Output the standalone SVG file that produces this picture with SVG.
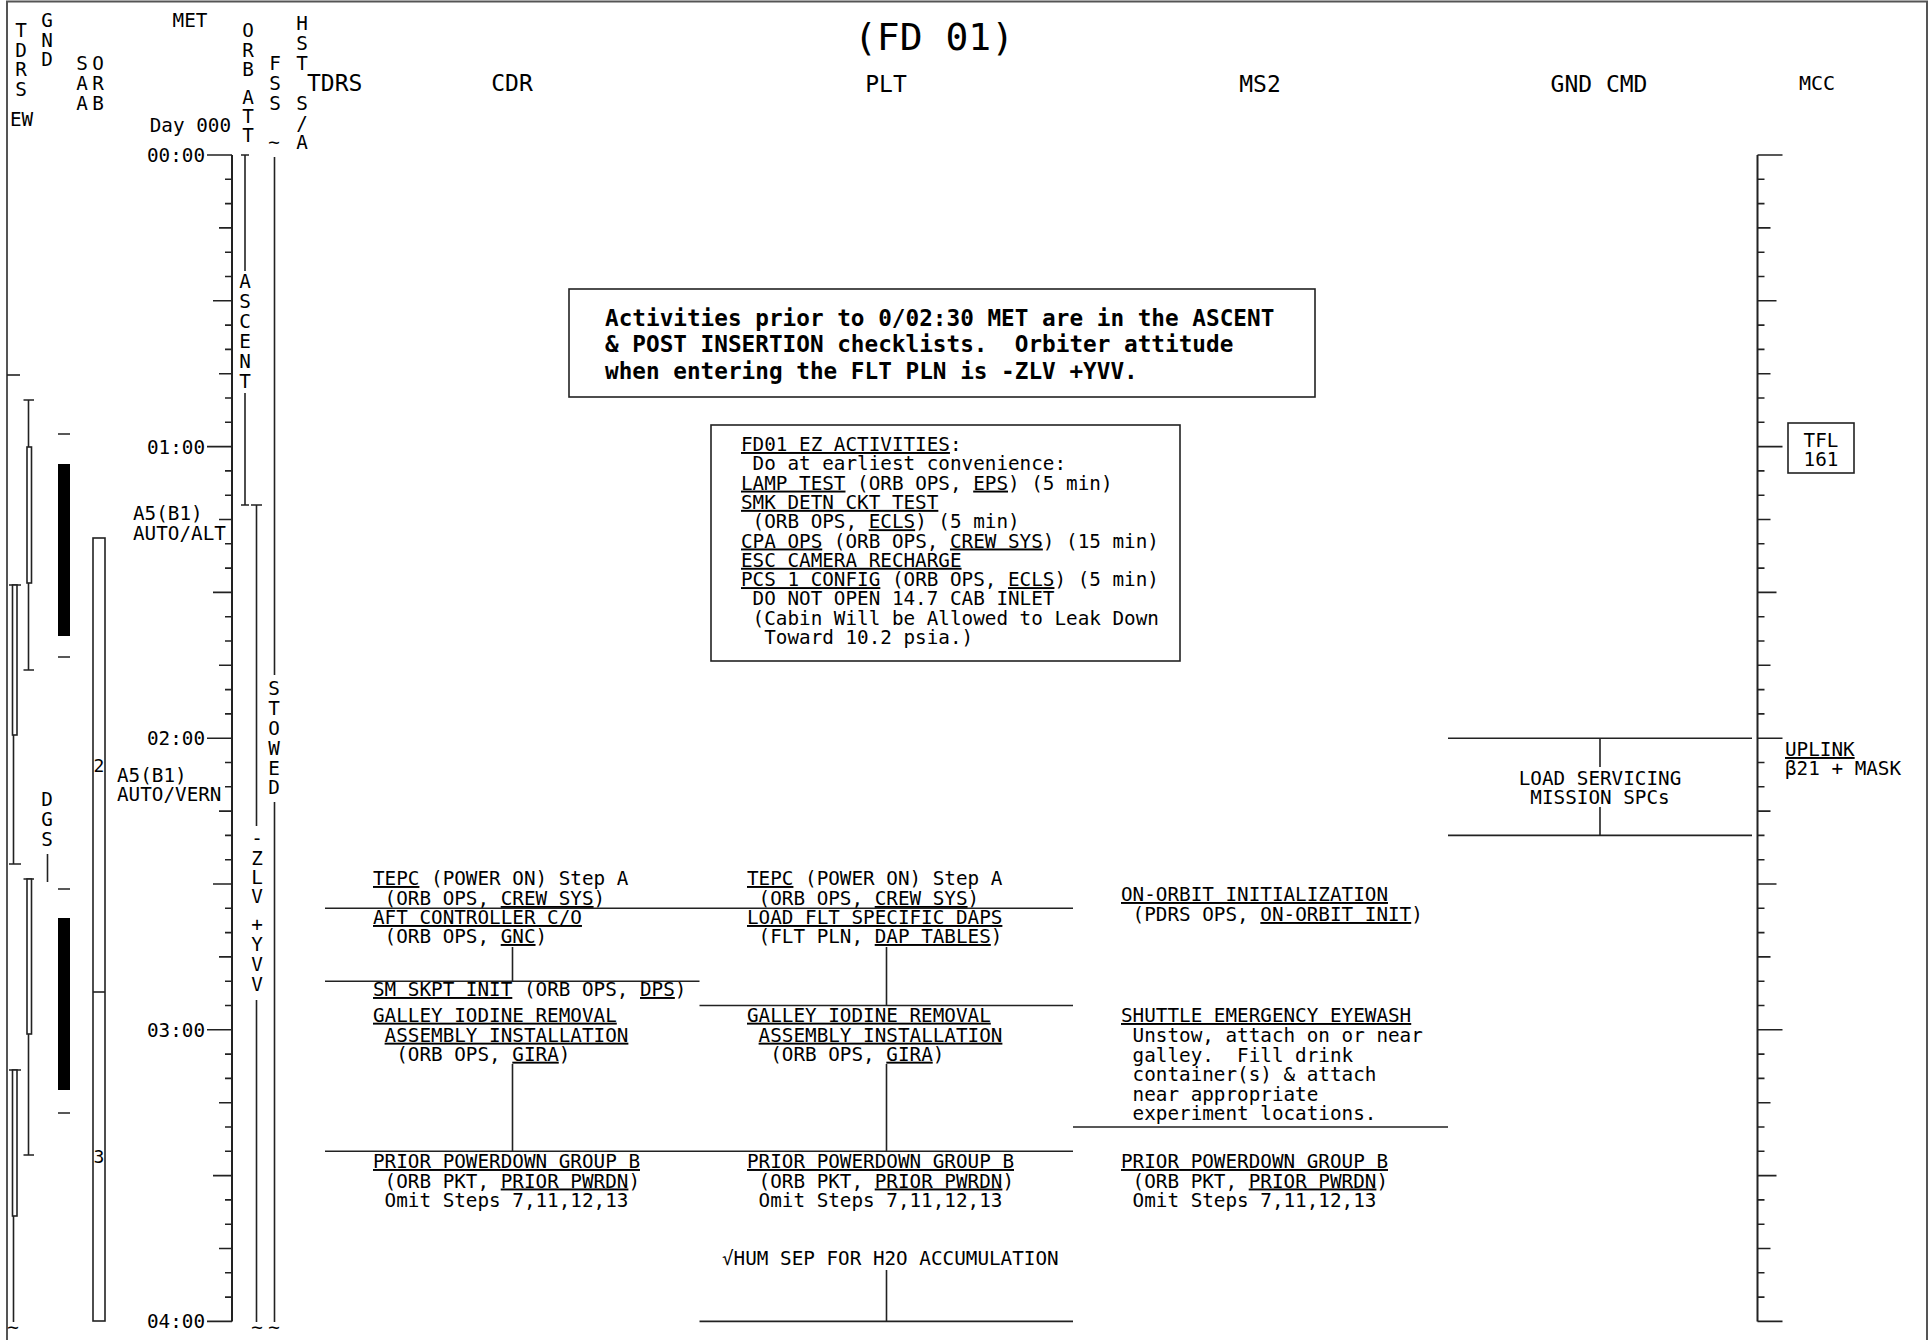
<svg xmlns="http://www.w3.org/2000/svg" width="1929" height="1340" viewBox="0 0 1929 1340">
<style>
text{font-family:"DejaVu Sans Mono","Liberation Mono",monospace;font-size:19.3px;fill:#000}
.u{text-decoration:underline}
.c{text-anchor:middle}
.e{text-anchor:end}
.h{font-size:23px}
.b{font-weight:bold;font-size:22.7px}
.ln{stroke:#222;stroke-width:1.6;fill:none}
.ax{stroke:#222;stroke-width:2;fill:none}
.bx{stroke:#222;stroke-width:1.6;fill:#fff}
</style>
<rect width="1929" height="1340" fill="#fff"/>
<path d="M7 1340 V1.5 H1927 V1340" fill="none" stroke="#555" stroke-width="2"/>

<g id="title"><text class="c" x="934" y="50" style="font-size:38px">(FD 01)</text></g>

<g id="column-headers">
<text x="21" y="37" class="c">T</text><text x="21" y="56.5" class="c">D</text><text x="21" y="76" class="c">R</text><text x="21" y="95.5" class="c">S</text>
<text x="10" y="126">EW</text>
<text x="47" y="27" class="c">G</text><text x="47" y="46.5" class="c">N</text><text x="47" y="66" class="c">D</text>
<text x="82" y="70" class="c">S</text><text x="82" y="90" class="c">A</text><text x="82" y="110" class="c">A</text>
<text x="98" y="70" class="c">O</text><text x="98" y="90" class="c">R</text><text x="98" y="110" class="c">B</text>
<text x="190" y="27" class="c">MET</text>
<text x="231" y="132" class="e">Day 000</text>
<text x="248" y="37" class="c">O</text><text x="248" y="57" class="c">R</text><text x="248" y="76" class="c">B</text>
<text x="248" y="104" class="c">A</text><text x="248" y="123" class="c">T</text><text x="248" y="142" class="c">T</text>
<text x="275" y="70" class="c">F</text><text x="275" y="90" class="c">S</text><text x="275" y="110" class="c">S</text>
<text x="302" y="30" class="c">H</text><text x="302" y="50" class="c">S</text><text x="302" y="70" class="c">T</text>
<text x="302" y="110" class="c">S</text><text x="302" y="130" class="c">/</text><text x="302" y="149" class="c">A</text>
<text x="307" y="91" class="h">TDRS</text>
<text x="512" y="91" class="h c">CDR</text>
<text x="886" y="92" class="h c">PLT</text>
<text x="1260" y="92" class="h c">MS2</text>
<text x="1599" y="92" class="h c">GND CMD</text>
<text x="1817" y="90" class="c" style="font-size:20px">MCC</text>
</g>

<g id="left-tracks">
<path class="ln" d="M7 375 H20"/>
<path class="ln" d="M23.5 400 H34 M28.5 400 V670 M23.5 670 H34"/>
<rect class="bx" x="27" y="447" width="4.5" height="136"/>
<path class="ln" d="M9 585 H21 M13.5 585 V864 M9 864 H21"/>
<rect class="bx" x="12.5" y="585" width="4.5" height="150"/>
<path class="ln" d="M23.5 879 H34 M28.5 879 V1155 M23.5 1155 H34"/>
<rect class="bx" x="27" y="879" width="4.5" height="155"/>
<path class="ln" d="M9 1070 H21 M13.5 1070 V1322"/>
<rect class="bx" x="12.5" y="1070" width="4.5" height="146"/>
<text x="13" y="1334" class="c">~</text>
<text x="47" y="806" class="c">D</text><text x="47" y="826" class="c">G</text><text x="47" y="846" class="c">S</text>
<path class="ln" d="M47.5 854 V882"/>
<path class="ln" d="M58 434 H70 M58 657 H70 M58 889 H70 M58 1113 H70"/>
<rect x="58" y="464" width="12" height="172" fill="#000"/>
<rect x="58" y="918" width="12" height="172" fill="#000"/>
<rect class="bx" x="93" y="538" width="12" height="783"/>
<path class="ln" d="M93 992 H105"/>
<text x="99" y="772" class="c" style="font-size:18px">2</text>
<text x="99" y="1163" class="c" style="font-size:18px">3</text>
</g>

<g id="met-axis">
<path class="ax" d="M232 155 V1321.4"/>
<path class="ln" d="M232 155H207M232 179.3H225M232 203.6H225M232 227.9H219M232 252.2H225M232 276.5H225M232 300.8H213M232 325.1H225M232 349.4H225M232 373.7H219M232 398H225M232 422.3H225M232 446.6H207M232 470.9H225M232 495.2H225M232 519.5H219M232 543.8H225M232 568.1H225M232 592.4H213M232 616.7H225M232 641H225M232 665.3H219M232 689.6H225M232 713.9H225M232 738.2H207M232 762.5H225M232 786.8H225M232 811.1H219M232 835.4H225M232 859.7H225M232 884H213M232 908.3H225M232 932.6H225M232 956.9H219M232 981.2H225M232 1005.5H225M232 1029.8H207M232 1054.1H225M232 1078.4H225M232 1102.7H219M232 1127H225M232 1151.3H225M232 1175.6H213M232 1199.9H225M232 1224.2H225M232 1248.5H219M232 1272.8H225M232 1297.1H225M232 1321.4H207"/>
<text x="205" y="162" class="e">00:00</text>
<text x="205" y="453.6" class="e">01:00</text>
<text x="205" y="745.2" class="e">02:00</text>
<text x="205" y="1036.8" class="e">03:00</text>
<text x="205" y="1328.4" class="e">04:00</text>
<text x="133" y="520">A5(B1)</text>
<text x="133" y="540">AUTO/ALT</text>
<text x="117" y="782">A5(B1)</text>
<text x="117" y="801">AUTO/VERN</text>
</g>

<g id="orb-att">
<path class="ln" d="M241 155 H249 M245 155 V271 M245 393 V505 M241 505 H249"/>
<text x="245" y="288" class="c">A</text><text x="245" y="308" class="c">S</text><text x="245" y="328" class="c">C</text>
<text x="245" y="348" class="c">E</text><text x="245" y="368" class="c">N</text><text x="245" y="388" class="c">T</text>
<path class="ln" d="M251 505 H262 M256.5 505 V826 M256.5 1000 V1322"/>
<text x="257" y="845" class="c">-</text><text x="257" y="865" class="c">Z</text><text x="257" y="884" class="c">L</text><text x="257" y="903" class="c">V</text>
<text x="257" y="931" class="c">+</text><text x="257" y="951" class="c">Y</text><text x="257" y="971" class="c">V</text><text x="257" y="991" class="c">V</text>
<text x="257" y="1334" class="c">~</text>
</g>

<g id="fss">
<text x="274" y="149" class="c">~</text>
<path class="ln" d="M274.5 157 V675 M274.5 802 V1322"/>
<text x="274" y="695" class="c">S</text><text x="274" y="715" class="c">T</text><text x="274" y="735" class="c">O</text>
<text x="274" y="755" class="c">W</text><text x="274" y="775" class="c">E</text><text x="274" y="794" class="c">D</text>
<text x="274" y="1334" class="c">~</text>
</g>

<g id="mcc-axis">
<path class="ax" d="M1757.5 155 V1321.4"/>
<path class="ln" d="M1757.5 155H1782.5M1757.5 179.3H1764.5M1757.5 203.6H1764.5M1757.5 227.9H1770.5M1757.5 252.2H1764.5M1757.5 276.5H1764.5M1757.5 300.8H1776.5M1757.5 325.1H1764.5M1757.5 349.4H1764.5M1757.5 373.7H1770.5M1757.5 398H1764.5M1757.5 422.3H1764.5M1757.5 446.6H1782.5M1757.5 470.9H1764.5M1757.5 495.2H1764.5M1757.5 519.5H1770.5M1757.5 543.8H1764.5M1757.5 568.1H1764.5M1757.5 592.4H1776.5M1757.5 616.7H1764.5M1757.5 641H1764.5M1757.5 665.3H1770.5M1757.5 689.6H1764.5M1757.5 713.9H1764.5M1757.5 738.2H1782.5M1757.5 762.5H1764.5M1757.5 786.8H1764.5M1757.5 811.1H1770.5M1757.5 835.4H1764.5M1757.5 859.7H1764.5M1757.5 884H1776.5M1757.5 908.3H1764.5M1757.5 932.6H1764.5M1757.5 956.9H1770.5M1757.5 981.2H1764.5M1757.5 1005.5H1764.5M1757.5 1029.8H1782.5M1757.5 1054.1H1764.5M1757.5 1078.4H1764.5M1757.5 1102.7H1770.5M1757.5 1127H1764.5M1757.5 1151.3H1764.5M1757.5 1175.6H1776.5M1757.5 1199.9H1764.5M1757.5 1224.2H1764.5M1757.5 1248.5H1770.5M1757.5 1272.8H1764.5M1757.5 1297.1H1764.5M1757.5 1321.4H1782.5"/>
</g>

<g id="tfl-161">
<rect class="bx" x="1788" y="423" width="66" height="50"/>
<text x="1821" y="447" class="c">TFL</text>
<text x="1821" y="466" class="c">161</text>
</g>

<g id="uplink">
<text x="1785" y="756" class="u">UPLINK</text>
<text x="1785" y="775">β21 + MASK</text>
</g>

<g id="ascent-note">
<rect class="bx" x="569" y="289" width="746" height="108"/>
<text x="605" y="325.5" class="b">Activities prior to 0/02:30 MET are in the ASCENT</text>
<text x="605" y="352" class="b" xml:space="preserve">&amp; POST INSERTION checklists.  Orbiter attitude</text>
<text x="605" y="378.5" class="b">when entering the FLT PLN is -ZLV +YVV.</text>
</g>

<g id="ez-activities">
<rect class="bx" x="711" y="425" width="469" height="236"/>
<text x="741" y="451" xml:space="preserve"><tspan class="u">FD01 EZ ACTIVITIES</tspan>:</text>
<text x="741" y="470.3" xml:space="preserve"> Do at earliest convenience:</text>
<text x="741" y="489.6" xml:space="preserve"><tspan class="u">LAMP TEST</tspan> (ORB OPS, <tspan class="u">EPS</tspan>) (5 min)</text>
<text x="741" y="508.9" xml:space="preserve"><tspan class="u">SMK DETN CKT TEST</tspan></text>
<text x="741" y="528.2" xml:space="preserve"> (ORB OPS, <tspan class="u">ECLS</tspan>) (5 min)</text>
<text x="741" y="547.5" xml:space="preserve"><tspan class="u">CPA OPS</tspan> (ORB OPS, <tspan class="u">CREW SYS</tspan>) (15 min)</text>
<text x="741" y="566.8" xml:space="preserve"><tspan class="u">ESC CAMERA RECHARGE</tspan></text>
<text x="741" y="586.1" xml:space="preserve"><tspan class="u">PCS 1 CONFIG</tspan> (ORB OPS, <tspan class="u">ECLS</tspan>) (5 min)</text>
<text x="741" y="605.4" xml:space="preserve"> DO NOT OPEN 14.7 CAB INLET</text>
<text x="741" y="624.7" xml:space="preserve"> (Cabin Will be Allowed to Leak Down</text>
<text x="741" y="644" xml:space="preserve">  Toward 10.2 psia.)</text>
</g>

<g id="gnd-cmd-load-spcs">
<text x="1600" y="785" class="c">LOAD SERVICING</text>
<text x="1600" y="803.5" class="c">MISSION SPCs</text>
</g>

<g id="cdr-tepc">
<text x="373" y="885" xml:space="preserve"><tspan class="u">TEPC</tspan> (POWER ON) Step A</text>
<text x="373" y="905" xml:space="preserve"> (ORB OPS, <tspan class="u">CREW SYS</tspan>)</text>
</g>
<g id="cdr-aft-controller">
<text x="373" y="924" xml:space="preserve"><tspan class="u">AFT CONTROLLER C/O</tspan></text>
<text x="373" y="943" xml:space="preserve"> (ORB OPS, <tspan class="u">GNC</tspan>)</text>
</g>
<g id="cdr-sm-skpt">
<text x="373" y="996" xml:space="preserve"><tspan class="u">SM SKPT INIT</tspan> (ORB OPS, <tspan class="u">DPS</tspan>)</text>
</g>
<g id="cdr-galley">
<text x="373" y="1021.7" xml:space="preserve"><tspan class="u">GALLEY IODINE REMOVAL</tspan></text>
<text x="373" y="1041.7" xml:space="preserve"> <tspan class="u">ASSEMBLY INSTALLATION</tspan></text>
<text x="373" y="1060.7" xml:space="preserve">  (ORB OPS, <tspan class="u">GIRA</tspan>)</text>
</g>
<g id="cdr-powerdown">
<text x="373" y="1168" xml:space="preserve"><tspan class="u">PRIOR POWERDOWN GROUP B</tspan></text>
<text x="373" y="1187.5" xml:space="preserve"> (ORB PKT, <tspan class="u">PRIOR PWRDN</tspan>)</text>
<text x="373" y="1206.5" xml:space="preserve"> Omit Steps 7,11,12,13</text>
</g>

<g id="plt-tepc">
<text x="747" y="885" xml:space="preserve"><tspan class="u">TEPC</tspan> (POWER ON) Step A</text>
<text x="747" y="905" xml:space="preserve"> (ORB OPS, <tspan class="u">CREW SYS</tspan>)</text>
</g>
<g id="plt-daps">
<text x="747" y="924" xml:space="preserve"><tspan class="u">LOAD FLT SPECIFIC DAPS</tspan></text>
<text x="747" y="943" xml:space="preserve"> (FLT PLN, <tspan class="u">DAP TABLES</tspan>)</text>
</g>
<g id="plt-galley">
<text x="747" y="1021.7" xml:space="preserve"><tspan class="u">GALLEY IODINE REMOVAL</tspan></text>
<text x="747" y="1041.7" xml:space="preserve"> <tspan class="u">ASSEMBLY INSTALLATION</tspan></text>
<text x="747" y="1060.7" xml:space="preserve">  (ORB OPS, <tspan class="u">GIRA</tspan>)</text>
</g>
<g id="plt-powerdown">
<text x="747" y="1168" xml:space="preserve"><tspan class="u">PRIOR POWERDOWN GROUP B</tspan></text>
<text x="747" y="1187.5" xml:space="preserve"> (ORB PKT, <tspan class="u">PRIOR PWRDN</tspan>)</text>
<text x="747" y="1206.5" xml:space="preserve"> Omit Steps 7,11,12,13</text>
</g>
<g id="plt-hum-sep">
<text x="722" y="1265">√HUM SEP FOR H2O ACCUMULATION</text>
</g>

<g id="ms2-init">
<text x="1121" y="901" xml:space="preserve"><tspan class="u">ON-ORBIT INITIALIZATION</tspan></text>
<text x="1121" y="921" xml:space="preserve"> (PDRS OPS, <tspan class="u">ON-ORBIT INIT</tspan>)</text>
</g>
<g id="ms2-eyewash">
<text x="1121" y="1022" xml:space="preserve"><tspan class="u">SHUTTLE EMERGENCY EYEWASH</tspan></text>
<text x="1121" y="1042" xml:space="preserve"> Unstow, attach on or near</text>
<text x="1121" y="1061.5" xml:space="preserve"> galley.  Fill drink</text>
<text x="1121" y="1081" xml:space="preserve"> container(s) &amp; attach</text>
<text x="1121" y="1100.5" xml:space="preserve"> near appropriate</text>
<text x="1121" y="1120" xml:space="preserve"> experiment locations.</text>
</g>
<g id="ms2-powerdown">
<text x="1121" y="1168" xml:space="preserve"><tspan class="u">PRIOR POWERDOWN GROUP B</tspan></text>
<text x="1121" y="1187.5" xml:space="preserve"> (ORB PKT, <tspan class="u">PRIOR PWRDN</tspan>)</text>
<text x="1121" y="1206.5" xml:space="preserve"> Omit Steps 7,11,12,13</text>
</g>

<g id="connectors">
<path class="ln" d="M325 908.3 H1073 M325 981.2 H699.5 M699.5 1005.5 H1073 M325 1151.3 H1073 M699.5 1321.4 H1073 M1073 1127 H1448 M1448 738.2 H1752 M1448 835.4 H1752"/>
<path class="ln" d="M512.5 947 V981.2 M512.5 1064 V1151.3 M886.5 947 V1005.5 M886.5 1064 V1151.3 M886.5 1270 V1321.4 M1600 738.2 V767 M1600 807 V835.4"/>
</g>
</svg>
